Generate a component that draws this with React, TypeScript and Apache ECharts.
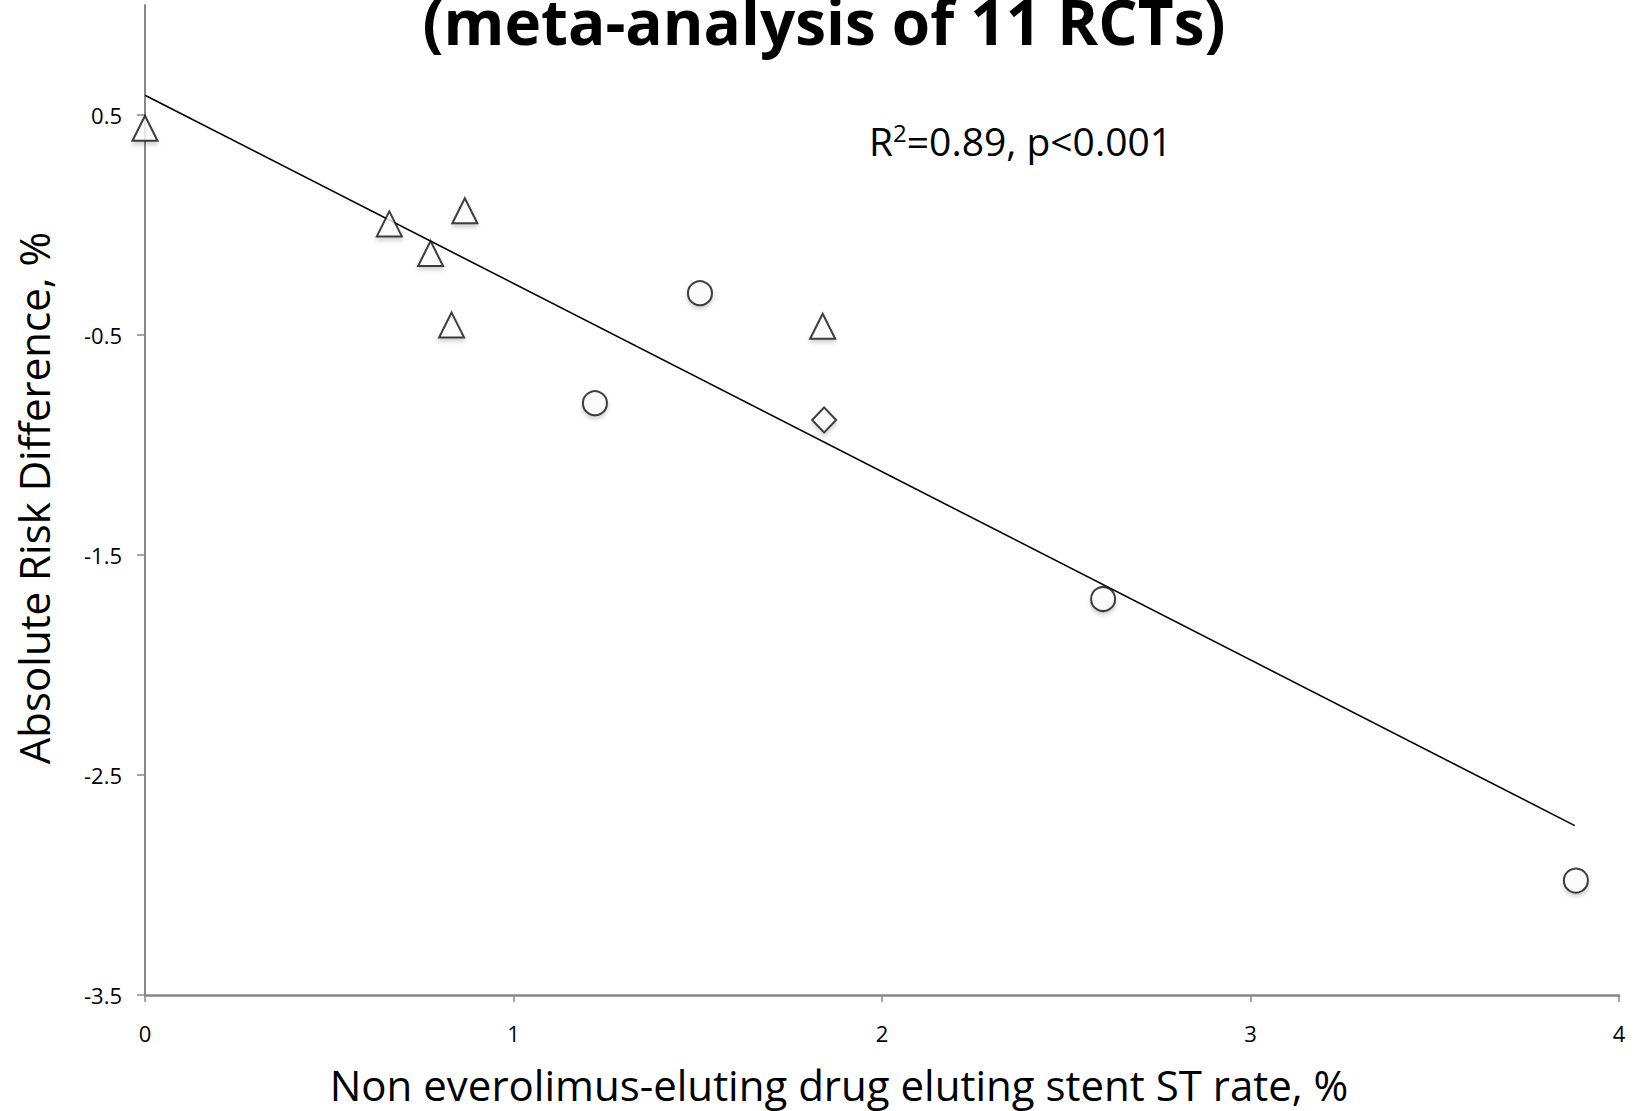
import React, { useEffect, useRef } from "react";
import * as echarts from "echarts";

// Studies drawn as triangles, circles and a single diamond: [ST rate %, risk difference %]
const triangleStudies: [number, number][] = [
  [0.0, 0.44],
  [0.663, 0.005],
  [0.775, -0.13],
  [0.868, 0.065],
  [0.832, -0.455],
  [1.839, -0.46],
];
const circleStudies: [number, number][] = [
  [1.506, -0.31],
  [1.221, -0.81],
  [2.6, -1.7],
  [3.883, -2.98],
];
const diamondStudies: [number, number][] = [[1.843, -0.886]];

// Fitted regression line end points
const trendLine: [number, number][] = [
  [0, 0.59],
  [3.88, -2.73],
];

const xTicks = [0, 1, 2, 3, 4];
const yTicks = [-3.5, -2.5, -1.5, -0.5, 0.5];

const titleText = "(meta-analysis of 11 RCTs)";
const xTitle = "Non everolimus-eluting drug eluting stent ST rate, %";
const yTitle = "Absolute Risk Difference, %";

const FONT = "'Open Sans', 'Noto Sans', sans-serif";
const AXIS_GREY = "#878787";

const markerStyle = {
  color: "#ffffff",
  borderColor: "#111111",
  borderWidth: 2,
  shadowColor: "rgba(0,0,0,0.22)",
  shadowBlur: 4,
  shadowOffsetY: 3,
};

export default function App() {
  const ref = useRef<HTMLDivElement | null>(null);

  useEffect(() => {
    document.body.style.margin = "0";
    if (!ref.current) return;
    const chart = echarts.init(ref.current, undefined, { renderer: "svg" });
    chart.setOption({
      animation: false,
      backgroundColor: "#ffffff",
      grid: { left: 145, right: 17, top: 5, bottom: 116 },
      xAxis: {
        type: "value",
        min: 0,
        max: 4,
        interval: 1,
        splitLine: { show: false },
        axisLine: { show: true, onZero: false, lineStyle: { color: AXIS_GREY, width: 2.5 } },
        axisTick: {
          show: true,
          length: 7,
          lineStyle: { color: AXIS_GREY, width: 1.5 },
          customValues: xTicks,
        },
        axisLabel: {
          customValues: xTicks,
          margin: 27,
          color: "#000",
          fontSize: 22,
          fontFamily: FONT,
        },
      },
      yAxis: {
        type: "value",
        min: -3.5,
        max: 1.0,
        interval: 1,
        splitLine: { show: false },
        axisLine: { show: true, onZero: false, lineStyle: { color: AXIS_GREY, width: 2 } },
        axisTick: {
          show: true,
          length: 8,
          lineStyle: { color: AXIS_GREY, width: 1.5 },
          customValues: yTicks,
        },
        axisLabel: {
          customValues: yTicks,
          margin: 23,
          color: "#000",
          fontSize: 22,
          fontFamily: FONT,
          formatter: (v: number) => String(v),
        },
      },
      series: [
        {
          name: "Regression",
          type: "line",
          data: trendLine,
          symbol: "none",
          lineStyle: { color: "#000", width: 1.6 },
          z: 1,
        },
        {
          name: "Triangles",
          type: "scatter",
          symbol: "triangle",
          symbolSize: [25, 25],
          data: triangleStudies,
          itemStyle: markerStyle,
          z: 3,
        },
        {
          name: "Circles",
          type: "scatter",
          symbol: "circle",
          symbolSize: 24,
          data: circleStudies,
          itemStyle: markerStyle,
          z: 3,
        },
        {
          name: "Diamond",
          type: "scatter",
          symbol: "diamond",
          symbolSize: [24, 25],
          data: diamondStudies,
          itemStyle: markerStyle,
          z: 3,
        },
      ],
      graphic: [
        {
          type: "text",
          x: 824,
          y: 21,
          z: 10,
          style: {
            text: titleText,
            fontFamily: FONT,
            fontWeight: "bold",
            fontSize: 62,
            fill: "#000",
            align: "center",
            verticalAlign: "middle",
          },
        },
        {
          type: "text",
          x: 869,
          y: 140,
          z: 10,
          style: {
            text: "R{sup|2}=0.89, p<0.001",
            fontFamily: FONT,
            fontSize: 39,
            fill: "#000",
            align: "left",
            verticalAlign: "middle",
            rich: {
              sup: {
                fontFamily: FONT,
                fontSize: 24,
                fill: "#000",
                verticalAlign: "top",
                padding: [0, 0, 15, 0],
              },
            },
          },
        },
        {
          type: "text",
          x: 839,
          y: 1084,
          z: 10,
          style: {
            text: xTitle,
            fontFamily: FONT,
            fontSize: 42,
            fill: "#000",
            align: "center",
            verticalAlign: "middle",
          },
        },
        {
          type: "text",
          x: 33,
          y: 498,
          rotation: Math.PI / 2,
          z: 10,
          style: {
            text: yTitle,
            fontFamily: FONT,
            fontSize: 42,
            fill: "#000",
            align: "center",
            verticalAlign: "middle",
          },
        },
      ],
    });
    return () => chart.dispose();
  }, []);

  return <div ref={ref} style={{ width: 1636, height: 1111 }} />;
}
